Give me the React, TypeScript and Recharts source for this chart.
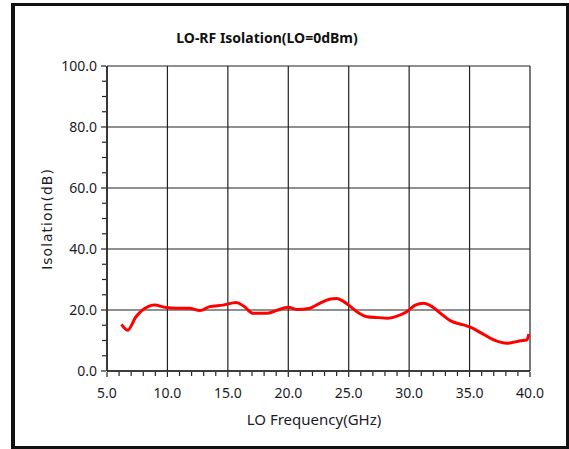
import React from 'react';
import { LineChart, Line, XAxis, YAxis, ReferenceLine } from 'recharts';

const freqGHz = [6.2, 6.7, 7.4, 8.4, 8.9, 9.9, 10.8, 11.8, 12.7, 13.5, 14.6, 15.7, 16.3, 17.1, 18.2, 19.0, 20.0, 20.7, 21.8, 22.6, 23.4, 24.0, 24.5, 25.0, 25.8, 26.5, 27.5, 28.2, 29.0, 29.8, 30.5, 31.2, 31.9, 32.6, 33.4, 34.5, 35.1, 35.9, 37.0, 38.1, 39.2, 39.75, 39.9];
const isolationDb = [15.3, 13.4, 17.8, 21.1, 21.6, 20.8, 20.6, 20.6, 19.8, 21.1, 21.6, 22.5, 21.3, 18.9, 18.9, 19.8, 20.9, 20.2, 20.6, 22.2, 23.5, 23.8, 23.0, 21.6, 19.1, 17.8, 17.5, 17.3, 18.0, 19.4, 21.6, 22.2, 21.1, 18.9, 16.5, 15.1, 14.3, 12.6, 10.2, 9.1, 9.9, 10.2, 12.1];

const xMajorTicks = [5, 10, 15, 20, 25, 30, 35, 40];
const yMajorTicks = [0, 20, 40, 60, 80, 100];
const xMinorStep = 1;
const yMinorStep = 5;

const xAllTicks: number[] = [];
for (let v = 5; v <= 40; v += xMinorStep) xAllTicks.push(v);
const yAllTicks: number[] = [];
for (let v = 0; v <= 100; v += yMinorStep) yAllTicks.push(v);

const title = 'LO-RF Isolation(LO=0dBm)';
const xLabel = 'LO Frequency(GHz)';
const yLabel = 'Isolation(dB)';

const data = freqGHz.map((f, i) => ({ f, v: isolationDb[i] }));

const TICK_FONT = "'Noto Sans', 'Open Sans', sans-serif";
const TEXT_COLOR = '#1c1c28';
const AXIS_COLOR = '#222';

const XTick = (props: any) => {
  const { x, y, payload } = props;
  const major = xMajorTicks.includes(payload.value);
  return (
    <g>
      <line x1={x} x2={x} y1={y + 1} y2={y + (major ? 6 : 5)} stroke={AXIS_COLOR} strokeWidth={1.2} />
      {major && (
        <text x={x} y={y + 27} textAnchor="middle" fontFamily={TICK_FONT} fontSize={14} fill={TEXT_COLOR}>
          {payload.value.toFixed(1)}
        </text>
      )}
    </g>
  );
};

const YTick = (props: any) => {
  const { x, y, payload } = props;
  const major = yMajorTicks.includes(payload.value);
  return (
    <g>
      <line x1={x - 1} x2={x - (major ? 6 : 5)} y1={y} y2={y} stroke={AXIS_COLOR} strokeWidth={1.2} />
      {major && (
        <text x={x - 10} y={y + 5} textAnchor="end" fontFamily={TICK_FONT} fontSize={14} fill={TEXT_COLOR}>
          {payload.value.toFixed(1)}
        </text>
      )}
    </g>
  );
};

export default function App() {
  return (
    <div style={{ position: 'absolute', left: 0, top: 0, width: 569, height: 449, background: '#fff', overflow: 'hidden' }}>
      <div
        style={{
          position: 'absolute',
          left: 11,
          top: 3,
          width: 558,
          height: 446,
          boxSizing: 'border-box',
          borderStyle: 'solid',
          borderColor: '#111',
          borderWidth: '3px 3px 3px 4px',
        }}
      />
      <div style={{ position: 'absolute', left: 0, top: 0 }}>
        <LineChart width={569} height={449} data={data} margin={{ top: 66, right: 39, bottom: 38, left: 47 }}>
          <XAxis
            dataKey="f"
            type="number"
            domain={[5, 40]}
            ticks={xAllTicks}
            interval={0}
            height={40}
            tickSize={0}
            tickMargin={0}
            axisLine={{ stroke: AXIS_COLOR, strokeWidth: 1.5 }}
            tick={(p: any) => <XTick {...p} />}
            allowDataOverflow
          />
          <YAxis
            type="number"
            domain={[0, 100]}
            ticks={yAllTicks}
            interval={0}
            width={60}
            tickSize={0}
            tickMargin={0}
            axisLine={{ stroke: AXIS_COLOR, strokeWidth: 1.5 }}
            tick={(p: any) => <YTick {...p} />}
            allowDataOverflow
          />
          {xMajorTicks.map((v) => (
            <ReferenceLine key={'gx' + v} x={v} stroke="#222" strokeWidth={1.2} />
          ))}
          {yMajorTicks.map((v) => (
            <ReferenceLine key={'gy' + v} y={v} stroke="#222" strokeWidth={1.2} />
          ))}
          <Line
            dataKey="v"
            type="monotone"
            stroke="#ff0000"
            strokeWidth={3}
            dot={false}
            isAnimationActive={false}
          />
        </LineChart>
      </div>
      <svg width={569} height={449} style={{ position: 'absolute', left: 0, top: 0, pointerEvents: 'none' }}>
        <text x={267} y={43} textAnchor="middle" fontFamily={TICK_FONT} fontWeight="bold" fontSize={14} fill="#111">
          {title}
        </text>
        <text
          x={0}
          y={0}
          transform="translate(51.5, 219) rotate(-90)"
          textAnchor="middle"
          fontFamily="'DejaVu Sans', sans-serif"
          fontSize={14}
          letterSpacing={1}
          fill={TEXT_COLOR}
        >
          {yLabel}
        </text>
        <text x={314} y={425} textAnchor="middle" fontFamily={TICK_FONT} fontSize={15} fill={TEXT_COLOR}>
          {xLabel}
        </text>
      </svg>
    </div>
  );
}
